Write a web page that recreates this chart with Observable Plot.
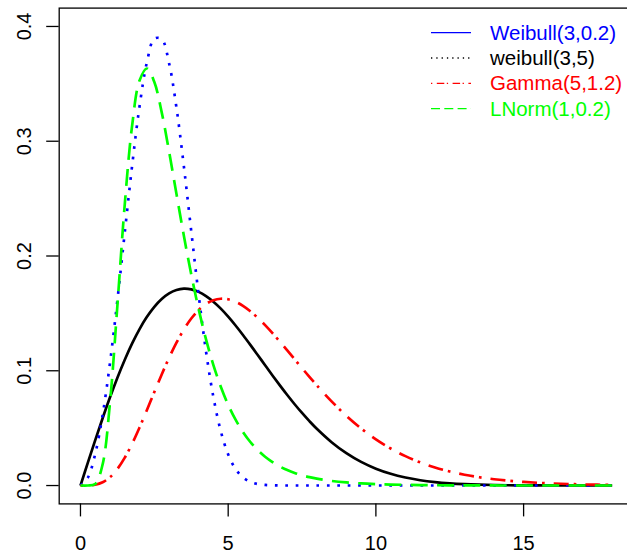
<!DOCTYPE html>
<html>
<head>
<meta charset="utf-8">
<script src="https://cdn.jsdelivr.net/npm/d3@7"></script>
<script src="https://cdn.jsdelivr.net/npm/@observablehq/plot@0.6"></script>
<style>
  html, body { margin: 0; padding: 0; background: #fff; }
  #chart { position: relative; width: 627px; height: 556px; overflow: hidden; font-family: "Liberation Sans", Arial, Helvetica, sans-serif; }
  #chart svg { display: block; }
  #legend { position: absolute; left: 0; top: 0; }
</style>
</head>
<body>
<div id="chart"></div>
<script>
// x grid of the curves
const xs = [0,0.25,0.5,0.75,1,1.25,1.5,1.75,2,2.25,2.5,2.75,3,3.25,3.5,3.75,4,4.25,4.5,4.75,5,5.25,5.5,5.75,6,6.25,6.5,6.75,7,7.25,7.5,7.75,8,
  8.5,9,9.5,10,10.5,11,11.5,12,12.5,13,13.5,14,14.5,15,15.5,16,16.5,17,17.5,18];

// blue dotted curve
const blueDens = [0,0.00694,0.02765,0.06153,0.10707,0.16150,0.22063,0.27901,0.33049,0.36889,0.38933,0.38897,0.36788,0.32913,0.27813,0.22161,0.16613,0.11689,0.07699,0.04735,0.02711,0.01441,0.00709,0.00321,0.00134,0.00051,0.00018,0.00006,0.00002,0.00001,0,0,0,
  0,0,0,0,0,0,0,0,0,0,0,0,0,0,0,0,0,0,0,0];

// black solid curve
const blackDens = [0,0.01995,0.0396,0.05867,0.07686,0.09394,0.10967,0.12386,0.13634,0.14700,0.15576,0.16257,0.16744,0.17041,0.17154,0.17093,0.16873,0.16508,0.16015,0.15411,0.14715,0.13946,0.13121,0.12258,0.11373,0.10481,0.09595,0.08728,0.07888,0.07085,0.06324,0.05610,0.04947,
  0.03779,0.02820,0.02056,0.01465,0.01021,0.00696,0.00464,0.00302,0.00193,0.00121,0.00074,0.00044,0.00026,0.00015,0.00008,0.00005,0.00002,0.00001,0.00001,0];

// red dot-dash curve
const redDens = [0,0.00005,0.00069,0.00284,0.00728,0.01443,0.02429,0.03653,0.05060,0.06581,0.08145,0.09682,0.11133,0.12451,0.13598,0.14549,0.15292,0.15824,0.16148,0.16277,0.16226,0.16013,0.15661,0.15190,0.14622,0.13978,0.13277,0.12537,0.11773,0.10999,0.10228,0.09468,0.08728,
  0.07333,0.06076,0.04973,0.04025,0.03225,0.02561,0.02017,0.01576,0.01224,0.00944,0.00723,0.00552,0.00418,0.00316,0.00237,0.00178,0.00133,0.00098,0.00073,0.00054];

// green dashed curve
const greenDens = [0,0,0.00133,0.01847,0.07243,0.15698,0.24526,0.31393,0.35299,0.36339,0.35155,0.32516,0.29096,0.25401,0.21765,0.18387,0.15368,0.12739,0.10495,0.08607,0.07033,0.05734,0.04667,0.03795,0.03084,0.02506,0.02037,0.01656,0.01348,0.01098,0.00896,0.00731,0.00598,
  0.00401,0.00271,0.00184,0.00126,0.00086,0.00060,0.00042,0.00029,0.00021,0.00015,0.00010,0.00007,0.00005,0.00004,0.00003,0.00002,0.00001,0.00001,0.00001,0];

// axis ticks
const xTicks = [0, 5, 10, 15];
const yTicks = [0, 0.1, 0.2, 0.3, 0.4];

// legend
const legendLabels = ["Weibull(3,0.2)", "weibull(3,5)", "Gamma(5,1.2)", "LNorm(1,0.2)"];
const legendColors = ["#0000FF", "#000000", "#FF0000", "#00FF00"];
const legendDash = [null, "1.3,4", "1.3,4.5,7.5,2.5", "9,4.3"];

// curve styles
const curveColors = ["#0000FF", "#000000", "#FF0000", "#00FF00"];
const curveDash = ["2.7,7.7", null, "2.7,9,15,5", "17,9.3"];
const curveValues = [blueDens, blackDens, redDens, greenDens];

const W = 627, H = 556;
const fontFamily = '"Liberation Sans", Arial, Helvetica, sans-serif';

const lineMarks = [1, 0, 2, 3].map(k => Plot.line(xs, {
  x: d => d,
  y: (d, i) => curveValues[k][i],
  stroke: curveColors[k],
  strokeWidth: 2.67,
  strokeDasharray: curveDash[k] ?? undefined,
  strokeLinecap: "butt",
  curve: "catmull-rom"
}));

const plot = Plot.plot({
  width: W,
  height: H,
  marginLeft: 58.7,
  marginTop: 7.6,
  marginRight: -6,
  marginBottom: 52.6,
  style: { fontFamily, background: "white", color: "black" },
  x: { domain: [-0.72, 18.72], range: [58.7, 633] },
  y: { domain: [-0.016, 0.416], range: [503.4, 7.6] },
  marks: [
    ...lineMarks,
    Plot.frame({ stroke: "black", strokeWidth: 1.3 }),
    Plot.axisX(xTicks, { tickSize: 13, tickPadding: 19, fontSize: 20, label: null, stroke: "black", strokeWidth: 1.3, tickFormat: d => String(d), fill: "black" }),
    Plot.axisY(yTicks, { tickSize: 12.5, label: null, strokeWidth: 1.3, tickFormat: () => "" }),
    Plot.text(yTicks, {
      y: d => d,
      text: d => d.toFixed(1),
      frameAnchor: "left",
      dx: -28.5,
      rotate: -90,
      textAnchor: "middle",
      lineAnchor: "bottom",
      fontSize: 20,
      fill: "black"
    })
  ]
});

const chart = document.getElementById("chart");
chart.appendChild(plot);

// legend overlay (no box)
const leg = d3.select(chart).append("svg")
  .attr("id", "legend")
  .attr("width", W).attr("height", 140)
  .style("font-family", fontFamily);
const rowY0 = 32.7, rowStep = 25.3;
legendLabels.forEach((lab, i) => {
  const y = rowY0 + i * rowStep;
  const ln = leg.append("line")
    .attr("x1", 431).attr("x2", 471)
    .attr("y1", y).attr("y2", y)
    .attr("stroke", legendColors[i]).attr("stroke-width", 1.33);
  if (legendDash[i]) ln.attr("stroke-dasharray", legendDash[i]);
  leg.append("text")
    .attr("x", 490).attr("y", y)
    .attr("dy", "0.35em")
    .attr("font-size", 20.5)
    .attr("fill", legendColors[i])
    .text(lab);
});
</script>
</body>
</html>
